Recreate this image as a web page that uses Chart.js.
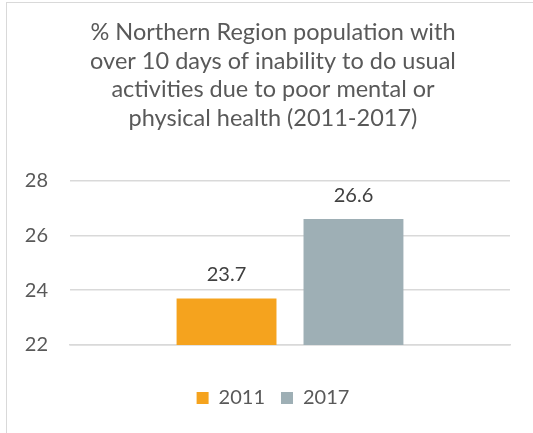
<!DOCTYPE html>
<html>
<head>
<meta charset="utf-8">
<script src="https://cdn.jsdelivr.net/npm/chart.js@4/dist/chart.umd.min.js"></script>
<style>
    body { margin: 0; background: #fff; overflow: hidden; }
    #frame {
        position: absolute; left: 6px; top: 2px;
        width: 534px; height: 445px;
        border: 1.5px solid #d9d9d9;
        box-sizing: border-box;
    }
</style>
</head>
<body>
<div id="frame"><canvas id="chart"></canvas></div>
<script>
const categories = [''];
const seriesNames = ['2011', '2017'];
const values2011 = [23.7];
const values2017 = [26.6];
const yTicks = [22, 24, 26, 28];
const titleLines = [
    '% Northern Region population with',
    'over 10 days of inability to do usual',
    'activities due to poor mental or',
    'physical health (2011-2017)'
];

const FONT = 'Lato, "Open Sans", sans-serif';

// draws the value above each bar
const barLabels = {
    id: 'barLabels',
    afterDatasetsDraw(chart) {
        const ctx = chart.ctx;
        ctx.save();
        ctx.font = `20px ${FONT}`;
        ctx.fillStyle = '#404040';
        ctx.textAlign = 'center';
        ctx.textBaseline = 'alphabetic';
        chart.data.datasets.forEach((ds, i) => {
            chart.getDatasetMeta(i).data.forEach((bar, j) => {
                ctx.fillText(ds.data[j].toFixed(1), bar.x, bar.y - 17);
            });
        });
        ctx.restore();
    }
};

new Chart(document.getElementById('chart'), {
    type: 'bar',
    data: {
        labels: categories,
        datasets: [
            { label: seriesNames[0], data: values2011, backgroundColor: '#F5A31E' },
            { label: seriesNames[1], data: values2017, backgroundColor: '#9EAFB5' }
        ]
    },
    plugins: [barLabels],
    options: {
        responsive: true,
        maintainAspectRatio: false,
        animation: false,
        layout: { padding: { left: 0, right: 0, top: 15, bottom: 28 } },
        datasets: { bar: { barPercentage: 0.787, categoryPercentage: 0.577 } },
        plugins: {
            title: {
                display: true,
                text: titleLines,
                color: '#595959',
                font: { family: FONT, size: 23.5, weight: 'normal', lineHeight: 1.22 },
                padding: { top: 0, bottom: 48 }
            },
            legend: {
                position: 'bottom',
                labels: {
                    color: '#595959',
                    font: { family: FONT, size: 20 },
                    boxWidth: 12, boxHeight: 12,
                    padding: 16
                }
            },
            tooltip: { enabled: false }
        },
        scales: {
            x: {
                grid: { display: false },
                border: { color: '#d9d9d9', width: 1.5 },
                ticks: { display: false },
                afterFit: (axis) => { axis.height = 27; }
            },
            y: {
                min: 22, max: 28,
                afterBuildTicks: (axis) => { axis.ticks = yTicks.map(v => ({ value: v })); },
                grid: { color: '#d9d9d9', lineWidth: 1.5, drawTicks: false },
                border: { display: false },
                ticks: { color: '#595959', font: { family: FONT, size: 20 }, padding: 22 },
                afterFit: (axis) => { axis.width = 63; }
            },
            // empty right-hand axis, only keeps space so the plot ends where the original does
            yRight: {
                position: 'right',
                min: 22, max: 28,
                grid: { display: false },
                border: { display: false },
                ticks: { display: false },
                afterFit: (axis) => { axis.width = 29; }
            }
        }
    }
});
</script>
</body>
</html>
